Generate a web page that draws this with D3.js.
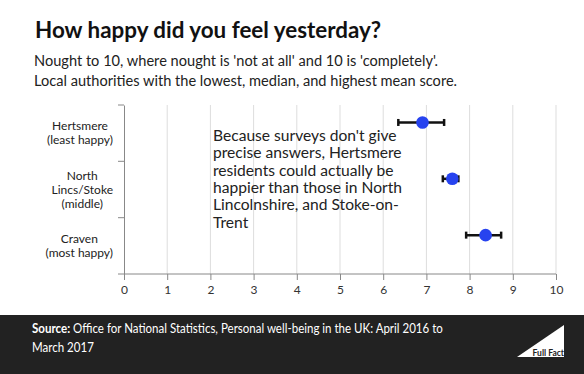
<!DOCTYPE html>
<html>
<head>
<meta charset="utf-8">
<script src="https://cdn.jsdelivr.net/npm/d3@7"></script>
<style>
  body { margin: 0; background: #fff; }
  svg { display: block; font-family: Lato, "Open Sans", sans-serif; }
</style>
</head>
<body>
<div id="chart"></div>
<script>
// data
const places = ["Hertsmere", "North Lincs/Stoke", "Craven"];
const placeLabels = [["Hertsmere", "(least happy)"], ["North", "Lincs/Stoke", "(middle)"], ["Craven", "(most happy)"]];
const means = [6.91, 7.60, 8.37];
const lows = [6.35, 7.38, 7.92];
const highs = [7.41, 7.74, 8.73];
const xTicks = [0, 1, 2, 3, 4, 5, 6, 7, 8, 9, 10];
const note = ["Because surveys don't give", "precise answers, Hertsmere", "residents could actually be",
  "happier than those in North", "Lincolnshire, and Stoke-on-", "Trent"];

const W = 584, H = 374;
const svg = d3.select("#chart").append("svg").attr("width", W).attr("height", H);

// title + subtitle
svg.append("text").attr("x", 35).attr("y", 38)
  .attr("font-size", 22.4).attr("font-weight", "bold").attr("fill", "#111")
  .text("How happy did you feel yesterday?");
const sub = ["Nought to 10, where nought is 'not at all' and 10 is 'completely'.",
  "Local authorities with the lowest, median, and highest mean score."];
svg.selectAll(".sub").data(sub).join("text").attr("class", "sub")
  .attr("x", 34).attr("y", (d, i) => 66 + i * 19.5)
  .attr("font-size", 14.6).attr("fill", "#222").text(d => d);

// scales
const x = d3.scaleLinear().domain([0, 10]).range([124, 556]);
const y = d3.scaleBand().domain(places).range([105, 274]);

// grid
svg.append("g").selectAll("line").data(xTicks.slice(1)).join("line")
  .attr("x1", d => x(d)).attr("x2", d => x(d))
  .attr("y1", 105).attr("y2", 274)
  .attr("stroke", "#ddd").attr("stroke-width", 1);

// axes
const xAxis = svg.append("g").attr("transform", "translate(0,274)")
  .call(d3.axisBottom(x).tickValues(xTicks).tickSize(6).tickSizeOuter(0).tickPadding(5));
xAxis.select(".domain").attr("d", "M118,0H556").attr("stroke", "#888");
xAxis.selectAll(".tick line").attr("stroke", "#888");
xAxis.selectAll(".tick text").attr("font-size", 12).attr("fill", "#333")
  .attr("font-family", "Lato, sans-serif");

const yAxis = svg.append("g").attr("transform", "translate(124,0)")
  .call(d3.axisLeft(y).tickValues([]).tickSizeOuter(0));
yAxis.select(".domain").attr("stroke", "#888");
yAxis.selectAll(".bound").data([105, 161.3, 217.7]).join("line").attr("class", "bound")
  .attr("x1", -6).attr("x2", 0).attr("y1", d => d).attr("y2", d => d).attr("stroke", "#888");

// category labels, centred text with block ending at x=113
places.forEach((p, i) => {
  const lines = placeLabels[i];
  const g = svg.append("g");
  const mid = y(p) + y.bandwidth() / 2;
  const t = g.selectAll("text").data(lines).join("text")
    .attr("y", (d, j) => mid + (j - (lines.length - 1) / 2) * 14 + 4)
    .attr("text-anchor", "middle").attr("font-size", 12).attr("fill", "#222")
    .text(d => d);
  let maxW = 0;
  t.each(function () { maxW = Math.max(maxW, this.getComputedTextLength()); });
  t.attr("x", 113 - maxW / 2);
});

// note
svg.selectAll(".note").data(note).join("text").attr("class", "note")
  .attr("x", 213).attr("y", (d, i) => 141 + i * 17.3)
  .attr("font-size", 15.6).attr("fill", "#222").text(d => d);

// error bars + points
const dotY = i => y(places[i]) + y.bandwidth() * 0.31;
const bars = svg.append("g").selectAll("g").data(places).join("g");
bars.append("line")
  .attr("x1", (d, i) => x(lows[i])).attr("x2", (d, i) => x(highs[i]))
  .attr("y1", (d, i) => dotY(i)).attr("y2", (d, i) => dotY(i))
  .attr("stroke", "#111").attr("stroke-width", 2.5);
[lows, highs].forEach(arr => {
  bars.append("line")
    .attr("x1", (d, i) => x(arr[i])).attr("x2", (d, i) => x(arr[i]))
    .attr("y1", (d, i) => dotY(i) - 3.5).attr("y2", (d, i) => dotY(i) + 3.5)
    .attr("stroke", "#111").attr("stroke-width", 2.5);
});
bars.append("circle")
  .attr("cx", (d, i) => x(means[i])).attr("cy", (d, i) => dotY(i))
  .attr("r", 6.3).attr("fill", "#2743ef");

// footer
svg.append("rect").attr("x", 0).attr("y", 315).attr("width", W).attr("height", H - 315).attr("fill", "#222");
const foot = svg.append("g").attr("font-size", 13.5).attr("fill", "#fff");
const f1 = foot.append("text").attr("x", 0).attr("y", 333);
f1.append("tspan").attr("font-weight", "bold").text("Source:");
f1.append("tspan").text(" Office for National Statistics, Personal well-being in the UK: April 2016 to");
foot.append("text").attr("x", 0).attr("y", 352).text("March 2017");
// squeeze horizontally so the first line runs 32 -> 443 like the original
const k = 411 / f1.node().getComputedTextLength();
foot.attr("transform", `translate(32,0) scale(${k},1)`);

// Full Fact logo
svg.append("path").attr("d", "M517,357L564,325L564,357Z").attr("fill", "#fff");
svg.append("text").attr("x", 564).attr("y", 356).attr("text-anchor", "end")
  .attr("font-weight", "bold").attr("font-size", 8.5).attr("fill", "#222").text("Full Fact");
</script>
</body>
</html>
